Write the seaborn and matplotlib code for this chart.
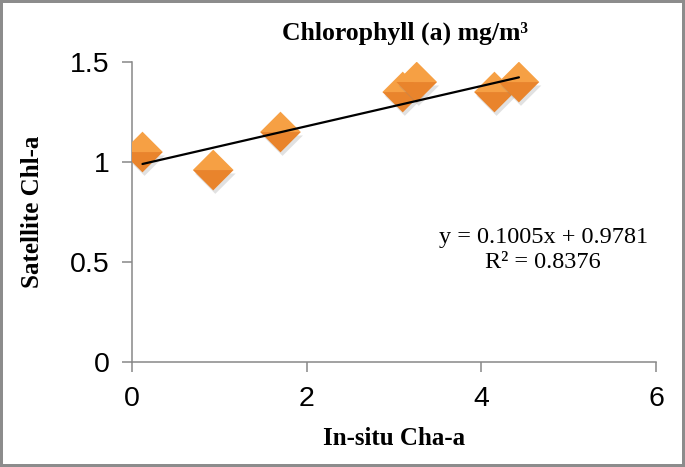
import matplotlib
matplotlib.use("Agg")
import matplotlib.pyplot as plt
import matplotlib.patheffects as pe
from matplotlib.markers import MarkerStyle
import numpy as np
import pandas as pd
import seaborn as sns

# data
insitu = [0.12, 0.93, 1.70, 3.10, 3.26, 4.15, 4.43]
satellite = [1.05, 0.96, 1.15, 1.35, 1.40, 1.35, 1.40]
slope = 0.1005
intercept = 0.9781
r2 = 0.8376
x_ticks = [0, 2, 4, 6]
y_ticks = [0, 0.5, 1, 1.5]
y_ticklabels = ['0', '0.5', '1', '1.5']

df = pd.DataFrame({'insitu': insitu, 'satellite': satellite})

sns.set_style('white')
plt.rcParams['font.family'] = ['Liberation Sans', 'DejaVu Sans']
plt.rcParams['text.color'] = 'black'

fig = plt.figure(figsize=(6.85, 4.67), dpi=100)
fig.patch.set_edgecolor('#8c8c8c')
fig.patch.set_linewidth(3)
ax = fig.add_axes([0.1927, 0.2248, 0.765, 0.6424])

# trendline from the fitted equation
line_x = np.array([min(insitu), max(insitu)])
line_y = slope * line_x + intercept
sns.lineplot(x=line_x, y=line_y, color='black', linewidth=1.6, ax=ax, zorder=4)

# two-tone diamonds (lighter top half, darker bottom half)
top_marker = MarkerStyle('D', fillstyle='top')
bottom_marker = MarkerStyle('D', fillstyle='bottom')
shadow = [pe.SimplePatchShadow(offset=(1.5, -2.5), shadow_rgbFace='#888888', alpha=0.25), pe.Normal()]
for i in range(len(df)):
    row = df.iloc[[i]]
    sns.scatterplot(data=row, x='insitu', y='satellite', marker=bottom_marker, s=430,
                    color='#E9842C', edgecolor='none', linewidth=0, ax=ax, zorder=3 + i * 0.01,
                    path_effects=shadow)
    sns.scatterplot(data=row, x='insitu', y='satellite', marker=top_marker, s=430,
                    color='#F6A044', edgecolor='none', linewidth=0, ax=ax, zorder=3.005 + i * 0.01)

ax.set_xlim(0, 6)
ax.set_ylim(0, 1.5)
ax.set_xticks(x_ticks)
ax.set_yticks(y_ticks)
ax.set_yticklabels(y_ticklabels)
for side in ['top', 'right']:
    ax.spines[side].set_visible(False)
for side in ['left', 'bottom']:
    ax.spines[side].set_color('#888888')
    ax.spines[side].set_linewidth(1.1)
ax.tick_params(axis='both', bottom=True, left=True, direction='out', length=7, width=1.1,
               color='#888888', labelsize=20.5, labelcolor='black')
ax.tick_params(axis='y', pad=9)
ax.tick_params(axis='x', pad=10)
ax.patch.set_alpha(0)

serif = ['Liberation Serif', 'DejaVu Serif']
ax.set_xlabel('In-situ Cha-a', fontsize=18, fontweight='bold', family=serif, color='black')
ax.set_ylabel('Satellite Chl-a', fontsize=18, fontweight='bold', family=serif, color='black')
ax.xaxis.set_label_coords(0.5, -0.215)
ax.yaxis.set_label_coords(-0.168, 0.5)

fig.text(405 / 685, 1 - 33 / 467, 'Chlorophyll (a) mg/m\u00b3', fontsize=18.5, fontweight='bold',
         family=serif, ha='center', va='center', color='black')

ax.text(4.71, 0.56, 'y = %.4fx + %.4f\nR\u00b2 = %.4f' % (slope, intercept, r2),
        fontsize=17.5, family=serif, ha='center', va='center', linespacing=1.25, color='black')

fig.savefig('out.png', dpi=100)
